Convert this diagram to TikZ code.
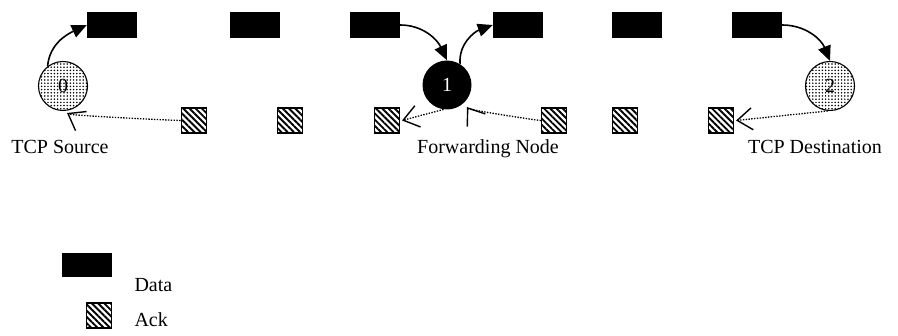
\documentclass[tikz,border=0pt]{standalone}
\usepackage{fontspec}
\setmainfont{Liberation Serif}
\usetikzlibrary{arrows.meta,patterns.meta,positioning}

\tikzset{
  databox/.style={fill=black, inner sep=0pt, minimum width=50pt, minimum height=26pt},
  ackbox/.style={draw, line width=1.1pt, inner sep=0pt, minimum size=25pt,
    pattern={Lines[angle=-45, distance=4.4pt, line width=1.9pt]}},
  endhost/.style={circle, draw, line width=1.1pt, inner sep=0pt, minimum size=49pt,
    pattern={Dots[distance=3.2pt, radius=0.85pt]}, font=\fontsize{20}{20}\selectfont},
  router/.style={circle, fill=black, inner sep=0pt, minimum size=49pt,
    text=white, font=\fontsize{20}{20}\selectfont},
  datalink/.style={line width=1.6pt, -{Triangle[length=15pt, width=13pt]}},
  acklink/.style={line width=1.3pt, dash pattern=on 1.4pt off 1.4pt,
    -{Straight Barb[length=15pt, width=22pt, line width=1.4pt]}},
  lbl/.style={font=\fontsize{20}{20}\selectfont, anchor=base},
  legendtxt/.style={font=\fontsize{20}{20}\selectfont, anchor=base west}
}

\begin{document}
\begin{tikzpicture}[x=1pt, y=1pt]
  \useasboundingbox (0,0) rectangle (898,-336);

  % data segments in flight
  \node[databox] (d1) at (112,-25) {};
  \node[databox] (d2) at (255,-25) {};
  \node[databox] (d3) at (375,-25) {};
  \node[databox] (d4) at (518,-25) {};
  \node[databox] (d5) at (637,-25) {};
  \node[databox] (d6) at (757,-25) {};

  % acknowledgements in flight
  \node[ackbox] (a1) at (194,-120.5) {};
  \node[ackbox] (a2) at (290,-120.5) {};
  \node[ackbox] (a3) at (387,-120.5) {};
  \node[ackbox] (a4) at (554,-120.5) {};
  \node[ackbox] (a5) at (625,-120.5) {};
  \node[ackbox] (a6) at (721,-120.5) {};

  % the three nodes
  \node[endhost] (n0) at (63,-86) {0};
  \node[router]  (n1) at (447,-85) {1};
  \node[endhost] (n2) at (830,-86) {2};

  \node[lbl] (l0) at (60,-154) {TCP Source};
  \node[lbl] (l1) at (488,-154) {Forwarding Node};
  \node[lbl] (l2) at (815,-154) {TCP Destination};

  % ack arrival points just below the nodes
  \coordinate (n0in) at (67,-113);
  \coordinate (n1in) at (467,-107);

  % data transfers
  \draw[datalink] (n0.128) to[out=85, in=205] (d1.west);
  \draw[datalink] (d3.east) to[out=0, in=115] (n1.north);
  \draw[datalink] (n1.58) to[out=95, in=200] (d4.west);
  \draw[datalink] (d6.east) to[out=0, in=112] (n2.north);

  % ack transfers
  \draw[acklink] (a1.west) to[out=180, in=-30, looseness=0.12] (n0in);
  \draw[acklink] (n1.-98) -- ([xshift=2pt]a3.east);
  \draw[acklink] (a4.west) to[out=180, in=-55, looseness=0.12] (n1in);
  \draw[acklink] (n2.-95) -- ([xshift=2pt]a6.east);

  % legend
  \node[databox, minimum height=24pt] (ld) at (87,-265) {};
  \node[ackbox] (la) at (99,-315.5) {};
  \node[legendtxt] (ldt) at (131,-292) {Data};
  \node[legendtxt] (lat) at (131,-327) {Ack};
\end{tikzpicture}
\end{document}
